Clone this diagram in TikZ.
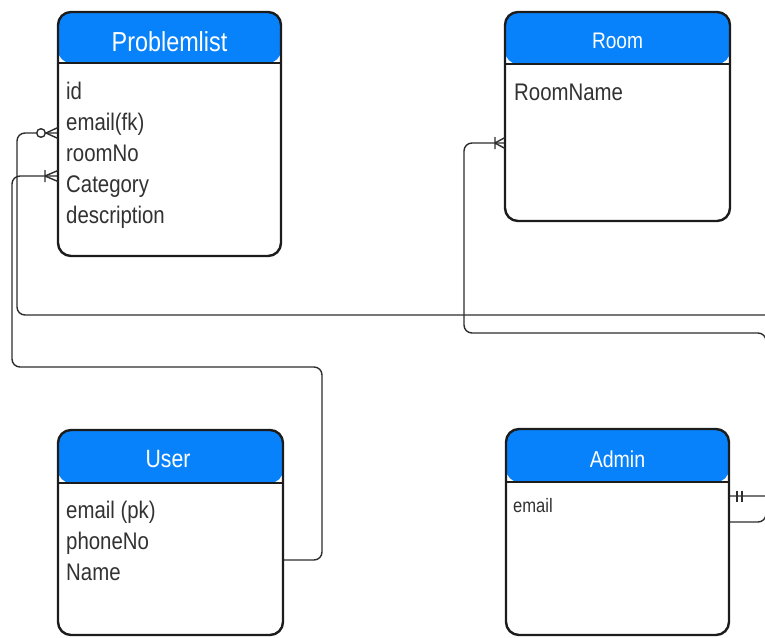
\documentclass[tikz,border=0pt]{standalone}
\usepackage{fontspec}
\usetikzlibrary{calc}
\newfontfamily\erfont[FakeStretch=0.85]{Liberation Sans}
\definecolor{hdrblue}{RGB}{8,130,250}
\definecolor{boxline}{RGB}{28,28,28}
\definecolor{connline}{RGB}{45,45,45}
\definecolor{attrtext}{RGB}{50,50,50}
\begin{document}
\begin{tikzpicture}[x=1pt,y=-1pt,
  entity/.style={rectangle, draw=boxline, line width=2.4pt, fill=white,
    rounded corners=13pt, inner sep=0pt, outer sep=0pt, anchor=north west,
    path picture={
      \fill[hdrblue] (path picture bounding box.north west)
        rectangle ([yshift=-#1pt]path picture bounding box.north east);
      \draw[boxline, line width=2.4pt]
        ([yshift=-#1pt]path picture bounding box.north west)
        -- ([yshift=-#1pt]path picture bounding box.north east);
    }},
  title/.style={anchor=base, inner sep=0pt, text=white, font=\erfont\fontsize{#1}{#1}\selectfont},
  attr/.style={anchor=base west, inner sep=0pt, text=attrtext, font=\erfont\fontsize{#1}{#1}\selectfont},
  conn/.style={draw=connline, line width=1.4pt, rounded corners=8pt},
  cardmark/.style={draw=connline, line width=1.4pt}
]
\useasboundingbox (0,0) rectangle (765,637);
\clip (0,0) rectangle (765,637);

% connectors (drawn first so the boxes sit on top)
\coordinate (plEmail) at (58,133);
\coordinate (plCat)   at (58,176);
\coordinate (rmIn)    at (505,143);
\coordinate (usOut)   at (283,560);
\coordinate (adTop)   at (729,496);
\coordinate (adLow)   at (729,522);

% Problemlist.email  o<  ---  ||  Admin
\draw[conn] (plEmail) -- (17,133) -- (17,315) -- (790,315) -- (790,496) -- (adTop);
% Problemlist.Category  |<  ---  User
\draw[conn] (plCat) -- (12,176) -- (12,367) -- (322,367) -- (322,560) -- (usOut);
% Room  |<  ---  Admin
\draw[conn] (rmIn) -- (464,143) -- (464,333) -- (766,333) -- (766,522) -- (adLow);

% entities
\node[entity=51, minimum width=223pt, minimum height=244pt] (pl) at (58,12) {};
\node[entity=52, minimum width=225pt, minimum height=209pt] (rm) at (505,12) {};
\node[entity=53, minimum width=225pt, minimum height=205pt] (us) at (58,430) {};
\node[entity=53, minimum width=223pt, minimum height=206pt] (ad) at (506,429) {};

% titles
\node[title=27.5] (plT) at (169.5,51) {Problemlist};
\node[title=22.5] (rmT) at (617.5,48) {Room};
\node[title=25]   (usT) at (168,467) {User};
\node[title=23]   (adT) at (617.5,467) {Admin};

% attributes
\node[attr=24] (plA1) at (66,99)  {id};
\node[attr=24] (plA2) at (66,130) {email(fk)};
\node[attr=24] (plA3) at (66,161) {roomNo};
\node[attr=24] (plA4) at (66,192) {Category};
\node[attr=24] (plA5) at (66,223) {description};

\node[attr=24] (rmA1) at (514,100) {RoomName};

\node[attr=24] (usA1) at (66,518) {email (pk)};
\node[attr=24] (usA2) at (66,549) {phoneNo};
\node[attr=24] (usA3) at (66,580) {Name};

\node[attr=19.5] (adA1) at (513,512) {email};

% cardinality marks
% zero or many at Problemlist.email
\draw[cardmark] ($(plEmail)+(-12,0)$) -- ($(plEmail)+(0,-5.5)$)
                ($(plEmail)+(-12,0)$) -- ($(plEmail)+(0,5.5)$);
\draw[cardmark, fill=white] ($(plEmail)+(-17,0)$) circle (4.3pt);
% one or many at Problemlist.Category
\draw[cardmark] ($(plCat)+(-13,-6)$) -- ($(plCat)+(-13,6)$)
                ($(plCat)+(-13,0)$) -- ($(plCat)+(0,-5.5)$)
                ($(plCat)+(-13,0)$) -- ($(plCat)+(0,5.5)$);
% one or many at Room
\draw[cardmark] ($(rmIn)+(-10,-6)$) -- ($(rmIn)+(-10,6)$)
                ($(rmIn)+(-10,0)$) -- ($(rmIn)+(0,-5.5)$)
                ($(rmIn)+(-10,0)$) -- ($(rmIn)+(0,5.5)$);
% one and only one at Admin
\draw[cardmark] ($(adTop)+(8,-5.5)$) -- ($(adTop)+(8,5.5)$)
                ($(adTop)+(13,-5.5)$) -- ($(adTop)+(13,5.5)$);
\end{tikzpicture}
\end{document}
